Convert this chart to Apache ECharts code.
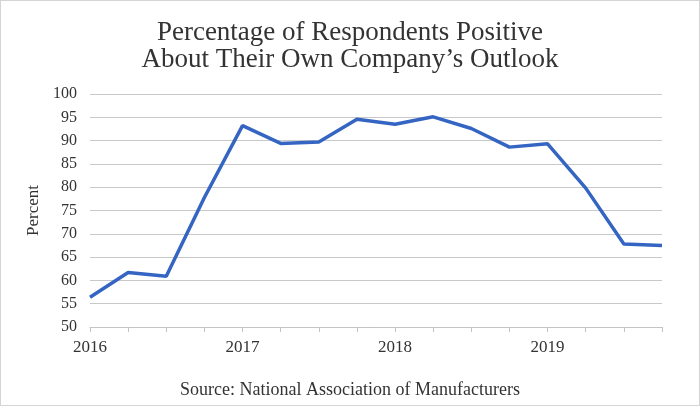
<!DOCTYPE html>
<html>
<head>
<meta charset="utf-8">
<script src="https://cdn.jsdelivr.net/npm/echarts@6/dist/echarts.min.js"></script>
<style>
html,body{margin:0;padding:0;background:#fff;}
#c{width:700px;height:406px;box-sizing:border-box;border:1px solid #d4d4d4;}
</style>
</head>
<body>
<div id="c"></div>
<script>
var categories = ['2016 Q1','2016 Q2','2016 Q3','2016 Q4','2017 Q1','2017 Q2','2017 Q3','2017 Q4','2018 Q1','2018 Q2','2018 Q3','2018 Q4','2019 Q1','2019 Q2','2019 Q3','2019 Q4'];
var percentPositive = [56.4, 61.7, 60.9, 77.8, 93.2, 89.4, 89.7, 94.6, 93.5, 95.1, 92.6, 88.6, 89.3, 79.8, 67.8, 67.5];
var yTicks = {min: 50, max: 100, step: 5};
var titleText = 'Percentage of Respondents Positive\nAbout Their Own Company\u2019s Outlook';
var sourceText = 'Source: National Association of Manufacturers';

var chart = echarts.init(document.getElementById('c'));
var serif = '"Liberation Serif", "DejaVu Serif", serif';
chart.setOption({
  animation: false,
  title: [{
    text: titleText,
    left: 'center', top: 13,
    textStyle: {fontFamily: serif, fontSize: 27, fontWeight: 'normal', color: '#333', lineHeight: 27}
  }, {
    text: sourceText,
    left: 'center', top: 375,
    textStyle: {fontFamily: serif, fontSize: 18, fontWeight: 'normal', color: '#333'}
  }],
  grid: {left: 89, right: 37, top: 93, bottom: 78},
  xAxis: {
    type: 'category',
    data: categories,
    boundaryGap: false,
    axisLine: {lineStyle: {color: '#c4c4c4', width: 1}},
    axisTick: {show: true, interval: 0, length: 5, lineStyle: {color: '#c4c4c4'}},
    axisLabel: {
      interval: 0, margin: 12, color: '#333', fontFamily: serif, fontSize: 17,
      formatter: function (v) { return v.indexOf('Q1') > 0 ? v.slice(0, 4) : ''; }
    },
    splitLine: {show: false}
  },
  yAxis: {
    type: 'value',
    min: yTicks.min, max: yTicks.max, interval: yTicks.step,
    name: 'Percent', nameLocation: 'middle', nameGap: 47, nameRotate: 90,
    nameTextStyle: {fontFamily: serif, fontSize: 17, color: '#333'},
    axisLine: {show: false},
    axisTick: {show: false},
    axisLabel: {margin: 13, color: '#333', fontFamily: serif, fontSize: 16},
    splitLine: {lineStyle: {color: '#c8c8c8', width: 1}}
  },
  series: [{
    type: 'line',
    data: percentPositive,
    symbol: 'none',
    lineStyle: {color: '#3565c3', width: 3.5},
    itemStyle: {color: '#3565c3'}
  }]
});
</script>
</body>
</html>
